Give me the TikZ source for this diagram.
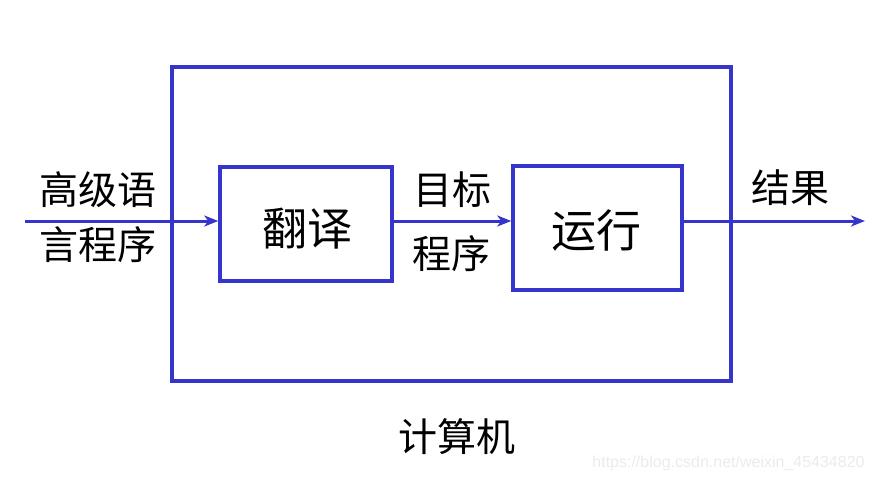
\documentclass[tikz,border=0pt]{standalone}
\usepackage{fontspec}
\newfontfamily\cjk{Noto Sans CJK SC}
\setsansfont{Liberation Sans}
\usetikzlibrary{arrows.meta}
\definecolor{bl}{HTML}{3535CC}
\begin{document}
\begin{tikzpicture}[x=1pt,y=-1pt,
  box/.style={draw=bl,line width=3.5pt},
  conn/.style={draw=bl,line width=3pt,-{Stealth[length=14pt,width=11pt,inset=4pt]}},
  lbl/.style={font=\cjk\fontsize{39}{46}\selectfont,text=black,inner sep=0pt},
  big/.style={font=\cjk\fontsize{45}{52}\selectfont,text=black,inner sep=0pt}]
\useasboundingbox (0,0) rectangle (874,481);
\draw[box] (172,67) rectangle (731,381);
\node[box,minimum width=172pt,minimum height=114pt,inner sep=0pt] (fy) at (306,224) {};
\node[box,minimum width=169pt,minimum height=124pt,inner sep=0pt] (yx) at (597.5,228) {};
\node[big] at (307,229) {翻译};
\node[big] at (596,230) {运行};
\coordinate (in) at (25,221);
\coordinate (out) at (865,221);
\draw[conn] (in) -- (fy.west |- in);
\draw[conn] (fy.east |- in) -- (yx.west |- in);
\draw[conn] (yx.east |- in) -- (out);
\node[lbl] at (98,190) {高级语};
\node[lbl] at (98,245) {言程序};
\node[lbl] at (452,190) {目标};
\node[lbl] at (451,254) {程序};
\node[lbl] at (790,188) {结果};
\node[lbl] at (457,437) {计算机};
\node[font=\sffamily\fontsize{16}{18}\selectfont,text=black!8,inner sep=0pt] at (728.5,463) {https://blog.csdn.net/weixin\_45434820};
\end{tikzpicture}
\end{document}
